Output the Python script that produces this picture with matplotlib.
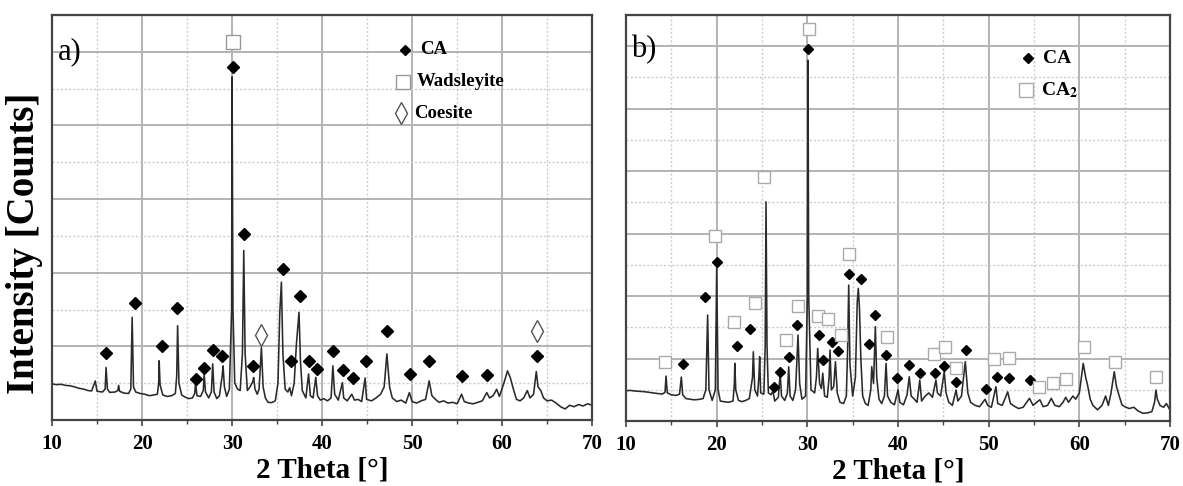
import matplotlib
matplotlib.use("Agg")
import matplotlib.pyplot as plt
from matplotlib.ticker import MultipleLocator

plt.rcParams['font.family'] = ['Liberation Serif', 'DejaVu Serif']
plt.rcParams['font.weight'] = 'bold'
plt.rcParams['mathtext.fontset'] = 'stix'

# ---- panel a) pattern (2 theta, counts) ----
a_theta = [10.0, 10.5, 11.0, 11.5, 12.0, 12.5, 13.0, 13.5, 14.0, 14.4, 14.8, 15.0, 15.6, 15.9, 16.0, 16.15,
           16.4, 17.0, 17.3, 17.4, 17.5, 18.0, 18.5, 18.75, 18.9, 19.05, 19.3, 19.8, 20.3, 20.8, 21.3,
           21.7, 21.85, 21.9, 22.0, 22.3, 22.8, 23.3, 23.7, 23.85, 23.95, 24.1, 24.4, 24.8, 25.2, 25.6,
           25.85, 25.95, 26.1, 26.5, 26.8, 26.9, 27.05, 27.4, 27.7, 27.85, 28.0, 28.3, 28.6, 28.9, 29.0,
           29.15, 29.4, 29.7, 29.95, 30.0, 30.1, 30.3, 30.6, 30.9, 31.15, 31.3, 31.45, 31.7, 32.0, 32.3,
           32.4, 32.55, 32.8, 33.0, 33.26, 33.45, 33.7, 34.0, 34.4, 34.8, 35.1, 35.3, 35.48, 35.65, 35.9,
           36.2, 36.4, 36.6, 36.9, 37.15, 37.44, 37.6, 37.8, 38.2, 38.5, 38.7, 39.0, 39.3, 39.5, 39.8,
           40.2, 40.6, 41.0, 41.2, 41.4, 41.8, 42.26, 42.4, 42.8, 43.3, 43.6, 44.0, 44.4, 44.78, 44.95,
           45.5, 46.0, 46.5, 46.9, 47.2, 47.5, 47.8, 48.3, 48.8, 49.3, 49.7, 50.0, 50.5, 51.0, 51.5,
           51.9, 52.2, 52.6, 53.0, 53.5, 54.0, 54.5, 55.0, 55.5, 55.8, 56.3, 56.8, 57.3, 57.8, 58.3,
           58.6, 59.0, 59.4, 59.7, 60.2, 60.6, 60.9, 61.3, 61.6, 62.0, 62.4, 62.8, 63.1, 63.5, 63.8,
           64.0, 64.3, 64.6, 65.0, 65.5, 66.0, 66.5, 67.0, 67.5, 68.0, 68.5, 69.0, 69.5, 70.0]
a_counts = [490, 480, 485, 470, 465, 450, 430, 420, 400, 395, 530, 390, 380, 420, 712, 420,
            375, 380, 400, 470, 390, 365, 360, 420, 1394, 450, 380, 360, 350, 330, 340,
            350, 500, 804, 480, 340, 320, 330, 360, 600, 1281, 500, 340, 310, 290, 300,
            360, 508, 330, 320, 400, 626, 380, 300, 380, 762, 380, 290, 330, 600, 735,
            450, 320, 420, 1500, 4660, 1500, 500, 420, 400, 900, 2302, 900, 400, 450, 520,
            577, 420, 350, 420, 985, 450, 300, 240, 236, 260, 500, 1450, 1871, 900, 420,
            380, 440, 330, 500, 1035, 1462, 800, 400, 300, 626, 330, 300, 580, 330, 270,
            290, 260, 300, 735, 350, 270, 508, 300, 260, 350, 270, 280, 250, 570, 280,
            260, 300, 350, 450, 897, 450, 300, 250, 270, 230, 372, 250, 230, 260, 280,
            531, 330, 280, 240, 260, 230, 240, 220, 350, 250, 230, 220, 240, 260, 372,
            300, 330, 417, 320, 500, 667, 580, 400, 280, 260, 300, 400, 300, 350, 658,
            450, 400, 300, 260, 270, 230, 180, 150, 200, 180, 210, 190, 220, 200]

a_ca_theta = [16.04, 19.26, 22.2, 23.9, 26.0, 26.93, 27.85, 28.9, 30.07, 31.37, 32.33, 35.63, 36.5,
              37.5, 38.5, 39.44, 41.26, 42.3, 43.48, 44.85, 47.2, 49.78, 51.93, 55.6, 58.3, 63.85]
a_ca_counts = [904, 1585, 999, 1517, 554, 713, 954, 867, 4800, 2530, 727, 2053, 795,
               1689, 795, 690, 931, 677, 577, 795, 1213, 622, 804, 600, 613, 872]
a_wad_theta = [30.1]
a_wad_counts = [5140]
a_coe_theta = [33.26, 63.85]
a_coe_counts = [1158, 1213]

# ---- panel b) pattern ----
b_theta = [10.0, 10.5, 11.0, 11.5, 12.0, 12.5, 13.0, 13.5, 14.0, 14.3, 14.41, 14.55, 15.0, 15.5, 15.9,
           16.1, 16.25, 16.6, 17.0, 17.5, 18.0, 18.5, 18.8, 19.0, 19.15, 19.5, 19.85, 20.0, 20.15, 20.4,
           20.8, 21.3, 21.8, 21.95, 22.0, 22.1, 22.4, 22.8, 23.2, 23.6, 23.95, 24.04, 24.2, 24.5, 24.65,
           24.74, 24.85, 25.2, 25.35, 25.44, 25.55, 25.7, 26.0, 26.2, 26.4, 26.8, 27.0, 27.15, 27.5, 27.8,
           27.94, 28.1, 28.4, 28.7, 28.97, 29.15, 29.4, 29.8, 30.0, 30.07, 30.15, 30.4, 30.8, 31.0, 31.14,
           31.35, 31.55, 31.7, 31.9, 32.2, 32.4, 32.5, 32.65, 32.9, 33.1, 33.3, 33.6, 34.0, 34.3, 34.45,
           34.56, 34.7, 35.0, 35.3, 35.5, 35.62, 35.75, 35.9, 36.1, 36.4, 36.7, 37.0, 37.1, 37.3, 37.5,
           37.65, 37.9, 38.2, 38.5, 38.68, 38.85, 39.2, 39.6, 40.0, 40.2, 40.6, 41.0, 41.24, 41.45, 41.8,
           42.1, 42.4, 42.6, 43.0, 43.4, 43.8, 44.18, 44.35, 44.7, 45.1, 45.3, 45.6, 46.0, 46.4, 46.6,
           47.0, 47.42, 47.7, 48.0, 48.5, 49.0, 49.6, 49.9, 50.3, 50.8, 51.0, 51.5, 52.1, 52.4, 52.8,
           53.3, 53.8, 54.5, 54.9, 55.3, 55.65, 56.0, 56.5, 56.9, 57.3, 57.8, 58.2, 58.5, 58.8, 59.3,
           59.6, 60.0, 60.43, 60.7, 60.9, 61.2, 61.5, 62.0, 62.5, 62.9, 63.2, 63.5, 63.85, 64.1, 64.4,
           64.7, 65.0, 65.5, 66.0, 66.5, 67.0, 67.5, 68.0, 68.3, 68.45, 68.6, 68.9, 69.3, 69.6, 70.0]
b_counts = [485, 490, 480, 475, 470, 460, 450, 440, 432, 460, 720, 450, 420, 410, 430,
            704, 420, 360, 350, 340, 345, 360, 500, 1696, 500, 330, 500, 2469, 500, 320,
            310, 300, 320, 600, 923, 500, 330, 310, 330, 360, 700, 1109, 500, 400, 700,
            1029, 450, 430, 1200, 3509, 1200, 450, 420, 483, 320, 380, 766, 400, 330, 450,
            869, 400, 330, 500, 1376, 600, 350, 400, 2000, 5776, 2000, 500, 450, 700, 1163,
            600, 520, 766, 400, 380, 700, 1136, 500, 550, 949, 450, 300, 280, 400, 1200,
            2176, 900, 400, 700, 1900, 2123, 1800, 1000, 400, 280, 250, 500, 869, 600, 1509,
            700, 350, 280, 400, 923, 400, 300, 260, 500, 300, 260, 420, 709, 400, 350,
            300, 656, 320, 400, 450, 380, 656, 450, 400, 789, 450, 300, 250, 496, 320,
            400, 949, 450, 300, 250, 230, 347, 250, 220, 549, 280, 250, 467, 280, 240,
            200, 220, 363, 250, 300, 340, 230, 250, 363, 250, 230, 300, 380, 300, 400,
            350, 450, 923, 700, 580, 350, 250, 180, 250, 400, 250, 450, 789, 550, 400,
            260, 230, 200, 220, 160, 123, 130, 150, 300, 496, 350, 250, 220, 280, 176]

b_ca_theta = [16.25, 18.75, 20.0, 22.24, 23.68, 26.29, 26.99, 27.94, 28.9, 30.1, 31.32, 31.76, 32.68,
              33.35, 34.56, 35.96, 36.84, 37.5, 38.68, 39.85, 41.24, 42.42, 44.1, 45.1, 46.39, 47.49,
              49.7, 50.9, 52.27, 54.55]
b_ca_counts = [907, 1979, 2539, 1205, 1472, 539, 779, 1029, 1531, 5963, 1376, 976, 1269,
               1120, 2352, 2267, 1227, 1696, 1056, 683, 896, 763, 763, 885, 619, 1136,
               507, 699, 683, 656]
b_ca2_theta = [14.3, 19.82, 21.9, 24.23, 25.2, 27.65, 28.93, 30.17, 31.18, 32.24, 33.71, 34.56, 38.79,
               44.0, 45.21, 46.39, 50.6, 52.27, 55.5, 57.05, 58.52, 60.47, 63.93, 68.45]
b_ca2_counts = [949, 2960, 1589, 1883, 3909, 1296, 1840, 6272, 1685, 1632, 1376, 2672, 1349,
                1072, 1189, 843, 987, 1003, 539, 613, 672, 1189, 939, 699]


def style_axes(ax, ytop):
    ax.set_xlim(10, 70)
    ax.set_ylim(0, ytop)
    ax.xaxis.set_major_locator(MultipleLocator(10))
    ax.xaxis.set_minor_locator(MultipleLocator(5))
    ax.yaxis.set_major_locator(MultipleLocator(1000))
    ax.yaxis.set_minor_locator(MultipleLocator(500))
    ax.set_yticklabels([])
    ax.tick_params(axis='y', which='both', length=0)
    ax.tick_params(axis='x', which='major', length=4, width=1.2, direction='out',
                   labelsize=15, pad=6, color='#444444')
    ax.tick_params(axis='x', which='minor', length=3, width=1.0, direction='out', color='#444444')
    for lab in ax.get_xticklabels():
        lab.set_fontweight('bold')
    # solid major grid, dotted minor grid
    ax.grid(True, which='major', color='#b3b3b3', lw=1.4, ls='-')
    ax.grid(True, which='minor', color='#cccccc', lw=1.0, ls=(0, (1.5, 1.5)))
    ax.set_axisbelow(True)
    for s in ax.spines.values():
        s.set_color('#444444')
        s.set_linewidth(1.6)
    ax.set_xlabel('2 Theta [°]', fontsize=21, fontweight='bold', labelpad=2)


fig = plt.figure(figsize=(11.83, 4.86), dpi=100)
ax1 = fig.add_axes([0.044, 0.1358, 0.4565, 0.8333])
ax2 = fig.add_axes([0.5292, 0.1337, 0.4598, 0.8354])

# panel a
style_axes(ax1, 5500)
ax1.plot(a_theta, a_counts, color='#2a2a2a', lw=1.15)
ax1.plot(a_ca_theta, a_ca_counts, 'D', color='black', ms=6, ls='none')
ax1.plot(a_wad_theta, a_wad_counts, 's', mfc='white', mec='#999999', mew=1.0, ms=10, ls='none')
ax1.plot(a_coe_theta, a_coe_counts, 'd', mfc='white', mec='#555555', mew=1.0, ms=11, ls='none')
fig.text(0.021, 0.50, 'Intensity [Counts]', fontsize=28, fontweight='bold',
         rotation=90, ha='center', va='center')
ax1.text(0.01, 0.91, 'a)', transform=ax1.transAxes, fontsize=22, fontweight='normal', va='center')

# legend a (markers + text)
ax1.plot([0.654], [0.914], 'D', color='black', ms=5.5, transform=ax1.transAxes)
ax1.text(0.681, 0.914, 'CA', transform=ax1.transAxes, fontsize=13.5, fontweight='bold', va='center')
ax1.plot([0.650], [0.835], 's', mfc='white', mec='#999999', ms=10, transform=ax1.transAxes)
ax1.text(0.676, 0.835, 'Wadsleyite', transform=ax1.transAxes, fontsize=13.5, fontweight='bold', va='center')
ax1.plot([0.646], [0.758], 'd', mfc='white', mec='#555555', ms=11, transform=ax1.transAxes)
ax1.text(0.670, 0.758, 'Coesite', transform=ax1.transAxes, fontsize=13.5, fontweight='bold', va='center')

# panel b
style_axes(ax2, 6500)
ax2.plot(b_theta, b_counts, color='#2a2a2a', lw=1.15)
ax2.plot(b_ca_theta, b_ca_counts, 'D', color='black', ms=5, ls='none')
ax2.plot(b_ca2_theta, b_ca2_counts, 's', mfc='white', mec='#aaaaaa', mew=1.0, ms=9, ls='none')
ax2.text(0.01, 0.915, 'b)', transform=ax2.transAxes, fontsize=22, fontweight='normal', va='center')

ax2.plot([0.739], [0.894], 'D', color='black', ms=5, transform=ax2.transAxes)
ax2.text(0.767, 0.894, 'CA', transform=ax2.transAxes, fontsize=14, fontweight='bold', va='center')
ax2.plot([0.735], [0.815], 's', mfc='white', mec='#aaaaaa', ms=10, transform=ax2.transAxes)
ax2.text(0.763, 0.815, r'CA$_\mathbf{2}$', transform=ax2.transAxes, fontsize=14, fontweight='bold', va='center')

fig.savefig('out.png', dpi=100)
